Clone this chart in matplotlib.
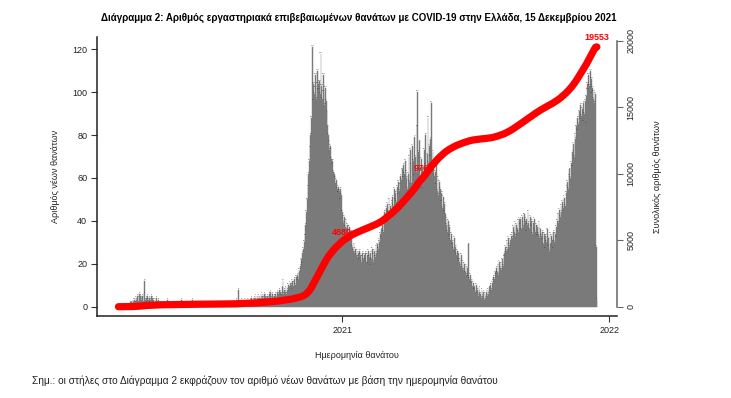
import matplotlib.pyplot as plt
import matplotlib.dates as mdates
import numpy as np
import pandas as pd

plt.rcParams['font.family'] = ['Liberation Sans', 'DejaVu Sans']

# daily deaths by date of death, one list per month
deaths_2020_03 = [0, 0, 0, 0, 0, 0, 0, 0, 0, 0, 1, 1, 0, 1, 1, 1, 2, 1, 2, 1, 3, 2, 3, 2, 4, 3, 5, 2, 4, 6, 5]
deaths_2020_04 = [4, 3, 5, 2, 6, 12, 3, 4, 2, 5, 3, 4, 2, 3, 5, 2, 4, 3, 1, 3, 2, 4, 1, 2, 3, 1, 2, 1, 2, 1]
deaths_2020_05 = [1, 0, 2, 1, 0, 1, 3, 0, 1, 2, 0, 1, 1, 0, 2, 1, 0, 1, 2, 0, 1, 0, 2, 1, 0, 3, 1, 0, 1, 2, 1]
deaths_2020_06 = [0, 1, 0, 2, 0, 1, 0, 0, 1, 3, 0, 1, 0, 1, 0, 0, 2, 0, 1, 0, 0, 1, 0, 2, 0, 1, 0, 0, 1, 0]
deaths_2020_07 = [0, 1, 0, 0, 2, 0, 1, 0, 1, 0, 0, 1, 2, 0, 0, 1, 0, 1, 0, 2, 0, 0, 1, 0, 1, 0, 2, 0, 1, 0, 1]
deaths_2020_08 = [1, 0, 2, 1, 0, 1, 2, 1, 3, 1, 2, 8, 1, 2, 0, 3, 1, 2, 2, 1, 3, 2, 1, 2, 3, 2, 1, 3, 2, 4, 2]
deaths_2020_09 = [3, 2, 4, 3, 5, 2, 4, 3, 5, 4, 3, 6, 4, 5, 3, 4, 6, 5, 4, 3, 5, 4, 6, 5, 7, 4, 5, 6, 4, 5]
deaths_2020_10 = [5, 6, 4, 7, 5, 6, 8, 5, 7, 6, 9, 12, 6, 8, 7, 9, 6, 8, 10, 7, 9, 11, 8, 10, 12, 9, 11, 13, 10, 14, 12]
deaths_2020_11 = [15, 13, 17, 16, 19, 22, 20, 25, 27, 30, 33, 38, 44, 50, 56, 62, 68, 74, 80, 88,
                  121, 96, 104, 99, 108, 102, 97, 110, 104, 101]
deaths_2020_12 = [105, 99, 118, 103, 97, 108, 100, 94, 102, 96, 91, 84, 80, 77, 73, 75, 69, 66, 68, 63,
                  62, 60, 57, 59, 55, 53, 56, 54, 50, 55, 52]
deaths_2021_01 = [44, 41, 39, 42, 37, 40, 36, 38, 35, 33, 37, 34, 31, 35, 28, 26, 29, 25, 27, 24,
                  26, 23, 25, 22, 26, 24, 21, 23, 25, 22, 24]
deaths_2021_02 = [22, 25, 21, 24, 20, 26, 23, 19, 25, 22, 27, 24, 21, 26, 23, 28, 25, 29, 27, 31,
                  30, 34, 32, 36, 38, 35, 41, 44]
deaths_2021_03 = [42, 46, 40, 48, 44, 50, 43, 47, 45, 49, 51, 47, 55, 50, 53, 49, 56, 52, 58, 54,
                  57, 61, 59, 64, 60, 66, 62, 68, 63, 60, 55]
deaths_2021_04 = [62, 70, 58, 73, 66, 57, 75, 68, 61, 79, 70, 63, 84, 100, 72, 64, 77, 60, 69, 55,
                  65, 58, 73, 66, 80, 62, 71, 88, 67, 75]
deaths_2021_05 = [70, 78, 95, 64, 72, 68, 61, 63, 57, 66, 54, 60, 52, 58, 55, 49, 53, 46, 51, 44,
                  48, 43, 38, 41, 35, 40, 33, 37, 31, 34, 29]
deaths_2021_06 = [30, 27, 32, 25, 28, 24, 26, 22, 25, 21, 22, 19, 24, 18, 21, 17, 20, 16, 19, 15,
                  18, 14, 29, 13, 15, 11, 12, 9, 11, 8]
deaths_2021_07 = [9, 7, 10, 6, 8, 5, 9, 7, 6, 4, 8, 5, 7, 3, 6, 4, 7, 5, 8, 6, 9, 7, 10, 8, 11, 12,
                  14, 13, 16, 15, 18]
deaths_2021_08 = [16, 19, 15, 21, 18, 20, 17, 22, 19, 23, 25, 28, 26, 30, 27, 32, 29, 28, 31, 33,
                  34, 32, 37, 35, 39, 33, 38, 36, 40, 35, 41]
deaths_2021_09 = [38, 41, 36, 42, 39, 37, 43, 40, 35, 41, 38, 44, 39, 36, 42, 37, 40, 34, 39, 36,
                  41, 35, 38, 33, 37, 34, 39, 32, 36, 33]
deaths_2021_10 = [31, 35, 29, 34, 27, 33, 30, 36, 28, 32, 26, 34, 29, 33, 31, 27, 35, 30, 34, 32,
                  37, 40, 43, 39, 45, 42, 47, 44, 49, 46, 51]
deaths_2021_11 = [50, 47, 53, 56, 58, 55, 61, 64, 60, 67, 65, 72, 76, 70, 80, 78, 84, 82, 88, 85,
                  91, 87, 94, 89, 92, 86, 95, 90, 96, 85]
deaths_2021_12 = [98, 104, 101, 108, 103, 110, 99, 106, 102, 97, 100, 95, 99, 28, 3]

month_starts = ['2020-03-01', '2020-04-01', '2020-05-01', '2020-06-01', '2020-07-01',
                '2020-08-01', '2020-09-01', '2020-10-01', '2020-11-01', '2020-12-01',
                '2021-01-01', '2021-02-01', '2021-03-01', '2021-04-01', '2021-05-01',
                '2021-06-01', '2021-07-01', '2021-08-01', '2021-09-01', '2021-10-01',
                '2021-11-01', '2021-12-01']
month_values = [deaths_2020_03, deaths_2020_04, deaths_2020_05, deaths_2020_06, deaths_2020_07,
                deaths_2020_08, deaths_2020_09, deaths_2020_10, deaths_2020_11, deaths_2020_12,
                deaths_2021_01, deaths_2021_02, deaths_2021_03, deaths_2021_04, deaths_2021_05,
                deaths_2021_06, deaths_2021_07, deaths_2021_08, deaths_2021_09, deaths_2021_10,
                deaths_2021_11, deaths_2021_12]

# dates where the running total is written on the red line
milestone_dates = ['2020-12-31', '2021-04-22', '2021-12-15']

dates = pd.DatetimeIndex(np.concatenate(
    [pd.date_range(s, periods=len(v)).values for s, v in zip(month_starts, month_values)]))
deaths = np.concatenate([np.array(v) for v in month_values])
total = np.cumsum(deaths)

fig = plt.figure(figsize=(7.31, 3.98), dpi=100)
ax = fig.add_axes([97 / 731, 1 - 316 / 398, 520 / 731, 279 / 398])

ax.bar(dates, deaths, width=1.0, color='#7a7a7a', edgecolor='#7a7a7a',
       linewidth=0.3, zorder=1)
for d, v in zip(dates, deaths):
    ax.text(d, v + 0.4, str(v), fontsize=1.6, ha='center', va='bottom',
            color='#333333', zorder=2)

x_2021 = mdates.date2num(pd.Timestamp('2021-01-01'))
ax.set_xlim(x_2021 - 335.3, x_2021 + 375.5)
ax.set_ylim(-4.34, 125.7)
ax.set_xticks([pd.Timestamp('2021-01-01'), pd.Timestamp('2022-01-01')])
ax.set_xticklabels(['2021', '2022'])
ax.set_yticks([0, 20, 40, 60, 80, 100, 120])
ax.tick_params(axis='both', labelsize=6.5, length=4, width=0.8, color='#333333',
               labelcolor='#222222', pad=3)

for s in ['top', 'right']:
    ax.spines[s].set_visible(False)
for s in ['left', 'bottom']:
    ax.spines[s].set_color('#222222')
    ax.spines[s].set_linewidth(1.1)

ax.set_ylabel('Αριθμός νέων θανάτων', fontsize=6.5, color='#222222')
ax.yaxis.set_label_coords(-0.071, 0.5)
ax.set_xlabel('Ημερομηνία θανάτου', fontsize=6.5, color='#222222')
ax.xaxis.set_label_coords(0.5, -0.125)

ax2 = ax.twinx()
ax2.plot(dates, total, color='#ff0000', linewidth=5.2, solid_capstyle='round', zorder=3)
for md in milestone_dates:
    i = dates.get_loc(pd.Timestamp(md))
    ax2.annotate(str(total[i]), (dates[i], total[i]), xytext=(0, 6.5),
                 textcoords='offset points', ha='center', va='center',
                 fontsize=6.5, fontweight='bold', color='#ff0000', zorder=2)
ax2.set_ylim(-700, 20301)
ax2.set_yticks([0, 5000, 10000, 15000, 20000])
ax2.tick_params(axis='y', labelsize=6.5, length=4, width=0.8, color='#666666',
                labelcolor='#222222', labelrotation=90, pad=3)
for lbl in ax2.get_yticklabels():
    lbl.set_va('center')
for s in ['top', 'left', 'bottom']:
    ax2.spines[s].set_visible(False)
ax2.spines['right'].set_bounds(0, 20000)
ax2.spines['right'].set_color('#666666')
ax2.spines['right'].set_linewidth(1.1)
ax2.set_ylabel('Συνολικός αριθμός θανάτων', fontsize=6.5, color='#222222')
ax2.yaxis.set_label_coords(1.069, 0.5)

fig.text(0.491, 1 - 18 / 398,
         'Διάγραμμα 2: Αριθμός εργαστηριακά επιβεβαιωμένων θανάτων με COVID-19 στην Ελλάδα, 15 Δεκεμβρίου 2021',
         ha='center', va='center', fontsize=7.0, fontweight='bold')
fig.text(32 / 731, 1 - 381 / 398,
         'Σημ.: οι στήλες στο Διάγραμμα 2 εκφράζουν τον αριθμό νέων θανάτων με βάση την ημερομηνία θανάτου',
         ha='left', va='center', fontsize=7.3, color='#222222')

fig.savefig('out.png', dpi=100)
